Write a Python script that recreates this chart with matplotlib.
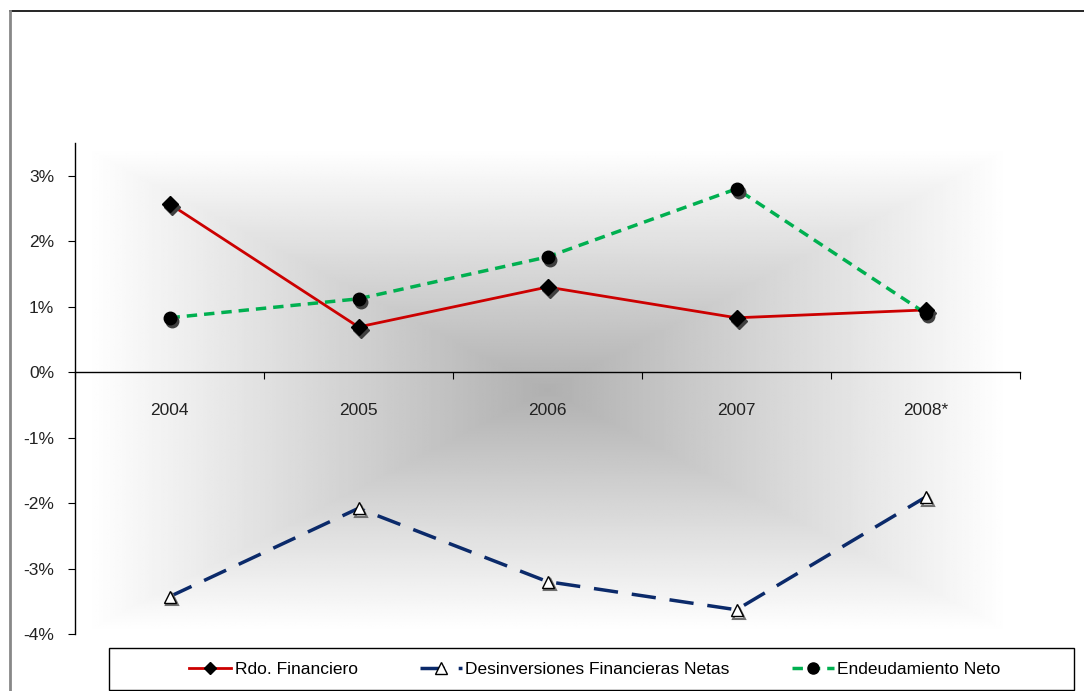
import numpy as np
import matplotlib
matplotlib.use("Agg")
import matplotlib.pyplot as plt
from matplotlib.transforms import ScaledTranslation
from matplotlib.lines import Line2D
from matplotlib.patches import Rectangle

plt.rcParams['font.family'] = ['Liberation Sans', 'DejaVu Sans']

# data (% values)
years = ['2004', '2005', '2006', '2007', '2008*']
rdo_financiero = [2.57, 0.69, 1.30, 0.83, 0.95]
desinversiones = [-3.43, -2.08, -3.20, -3.63, -1.91]
endeudamiento = [0.83, 1.12, 1.76, 2.80, 0.90]
yticks = [-4, -3, -2, -1, 0, 1, 2, 3]

W, H = 1084, 691
fig = plt.figure(figsize=(W / 100, H / 100), dpi=100)
ax = fig.add_axes([75 / W, 1 - 634 / H, (1020 - 75) / W, (634 - 143) / H])

x = np.arange(len(years))
ax.set_xlim(-0.5, len(years) - 0.5)
ax.set_ylim(-4, 3.5)

# rectangular "from centre" gradient fill like the spreadsheet plot area
gx = np.linspace(-1, 1, 400)
gy = np.linspace(-1, 1, 300)
GX, GY = np.meshgrid(gx, gy)
d = np.maximum(np.abs(GX), np.abs(GY))
shade = 0.69 + 0.31 * d
ax.imshow(shade, cmap='gray', vmin=0, vmax=1, aspect='auto',
          extent=(-0.44, len(years) - 0.56, -3.95, 3.4), zorder=0,
          interpolation='bilinear')

shadow = ax.transData + ScaledTranslation(2 / 72, -2 / 72, fig.dpi_scale_trans)

ax.plot(x, rdo_financiero, color='#cc0000', lw=2, zorder=3)
ax.plot(x, desinversiones, color='#0b2a6a', lw=2.5, dashes=(7, 4), zorder=3)
ax.plot(x, endeudamiento, color='#00b050', lw=2.5, dashes=(3, 2), zorder=3)

# markers with a drop shadow
ax.plot(x, rdo_financiero, 'D', ms=8, color='#404040', transform=shadow, zorder=4)
ax.plot(x, rdo_financiero, 'D', ms=8, color='black', zorder=5)
ax.plot(x, desinversiones, '^', ms=9, mfc='none', mec='#707070', mew=1.5,
        transform=shadow, zorder=4)
ax.plot(x, desinversiones, '^', ms=9, mfc='white', mec='black', mew=1, zorder=5)
ax.plot(x, endeudamiento, 'o', ms=9, color='#404040', transform=shadow, zorder=4)
ax.plot(x, endeudamiento, 'o', ms=9, color='black', zorder=5)

# axes styling
for s in ['top', 'right']:
    ax.spines[s].set_visible(False)
ax.spines['bottom'].set_position(('data', 0))
ax.spines['left'].set_linewidth(1)
ax.spines['bottom'].set_linewidth(1)

ax.set_yticks(yticks)
ax.set_yticklabels([f'{v}%' for v in yticks], fontsize=12.5, color='#222222')
ax.tick_params(axis='y', direction='out', length=5, pad=10)

ax.set_xticks(np.arange(len(years) + 1) - 0.5)
ax.set_xticklabels([])
ax.tick_params(axis='x', which='major', direction='out', length=5)
ax.set_xticks(x, minor=True)
ax.set_xticklabels(years, minor=True, fontsize=12.5, color='#222222')
ax.tick_params(axis='x', which='minor', length=0, pad=22)

# outer chart border
fig.add_artist(Line2D([10 / W, 1], [1 - 11 / H, 1 - 11 / H], color='black', lw=1.2))
fig.add_artist(Line2D([10 / W, 10 / W], [0, 1 - 11 / H], color='#888888', lw=2))

# legend box
fig.add_artist(Rectangle((109 / W, 1 - 690 / H), (1074 - 109) / W, 42 / H,
                         fill=False, ec='black', lw=1, transform=fig.transFigure))
handles = [
    Line2D([], [], color='#cc0000', lw=2, marker='D', ms=6, mfc='black', mec='black'),
    Line2D([], [], color='#0b2a6a', lw=2.5, dashes=(7, 4), marker='^', ms=8,
           mfc='white', mec='black', mew=1),
    Line2D([], [], color='#00b050', lw=2.5, dashes=(3, 2), marker='o', ms=8,
           mfc='black', mec='black'),
]
labels = ['Rdo. Financiero', 'Desinversiones Financieras Netas', 'Endeudamiento Neto']
fig.legend(handles, labels, loc='center', bbox_to_anchor=(595 / W, 1 - 669 / H),
           ncol=3, frameon=False, fontsize=12.5, handlelength=2.4,
           handletextpad=0.2, columnspacing=3.6)

fig.savefig('out.png', dpi=100)
